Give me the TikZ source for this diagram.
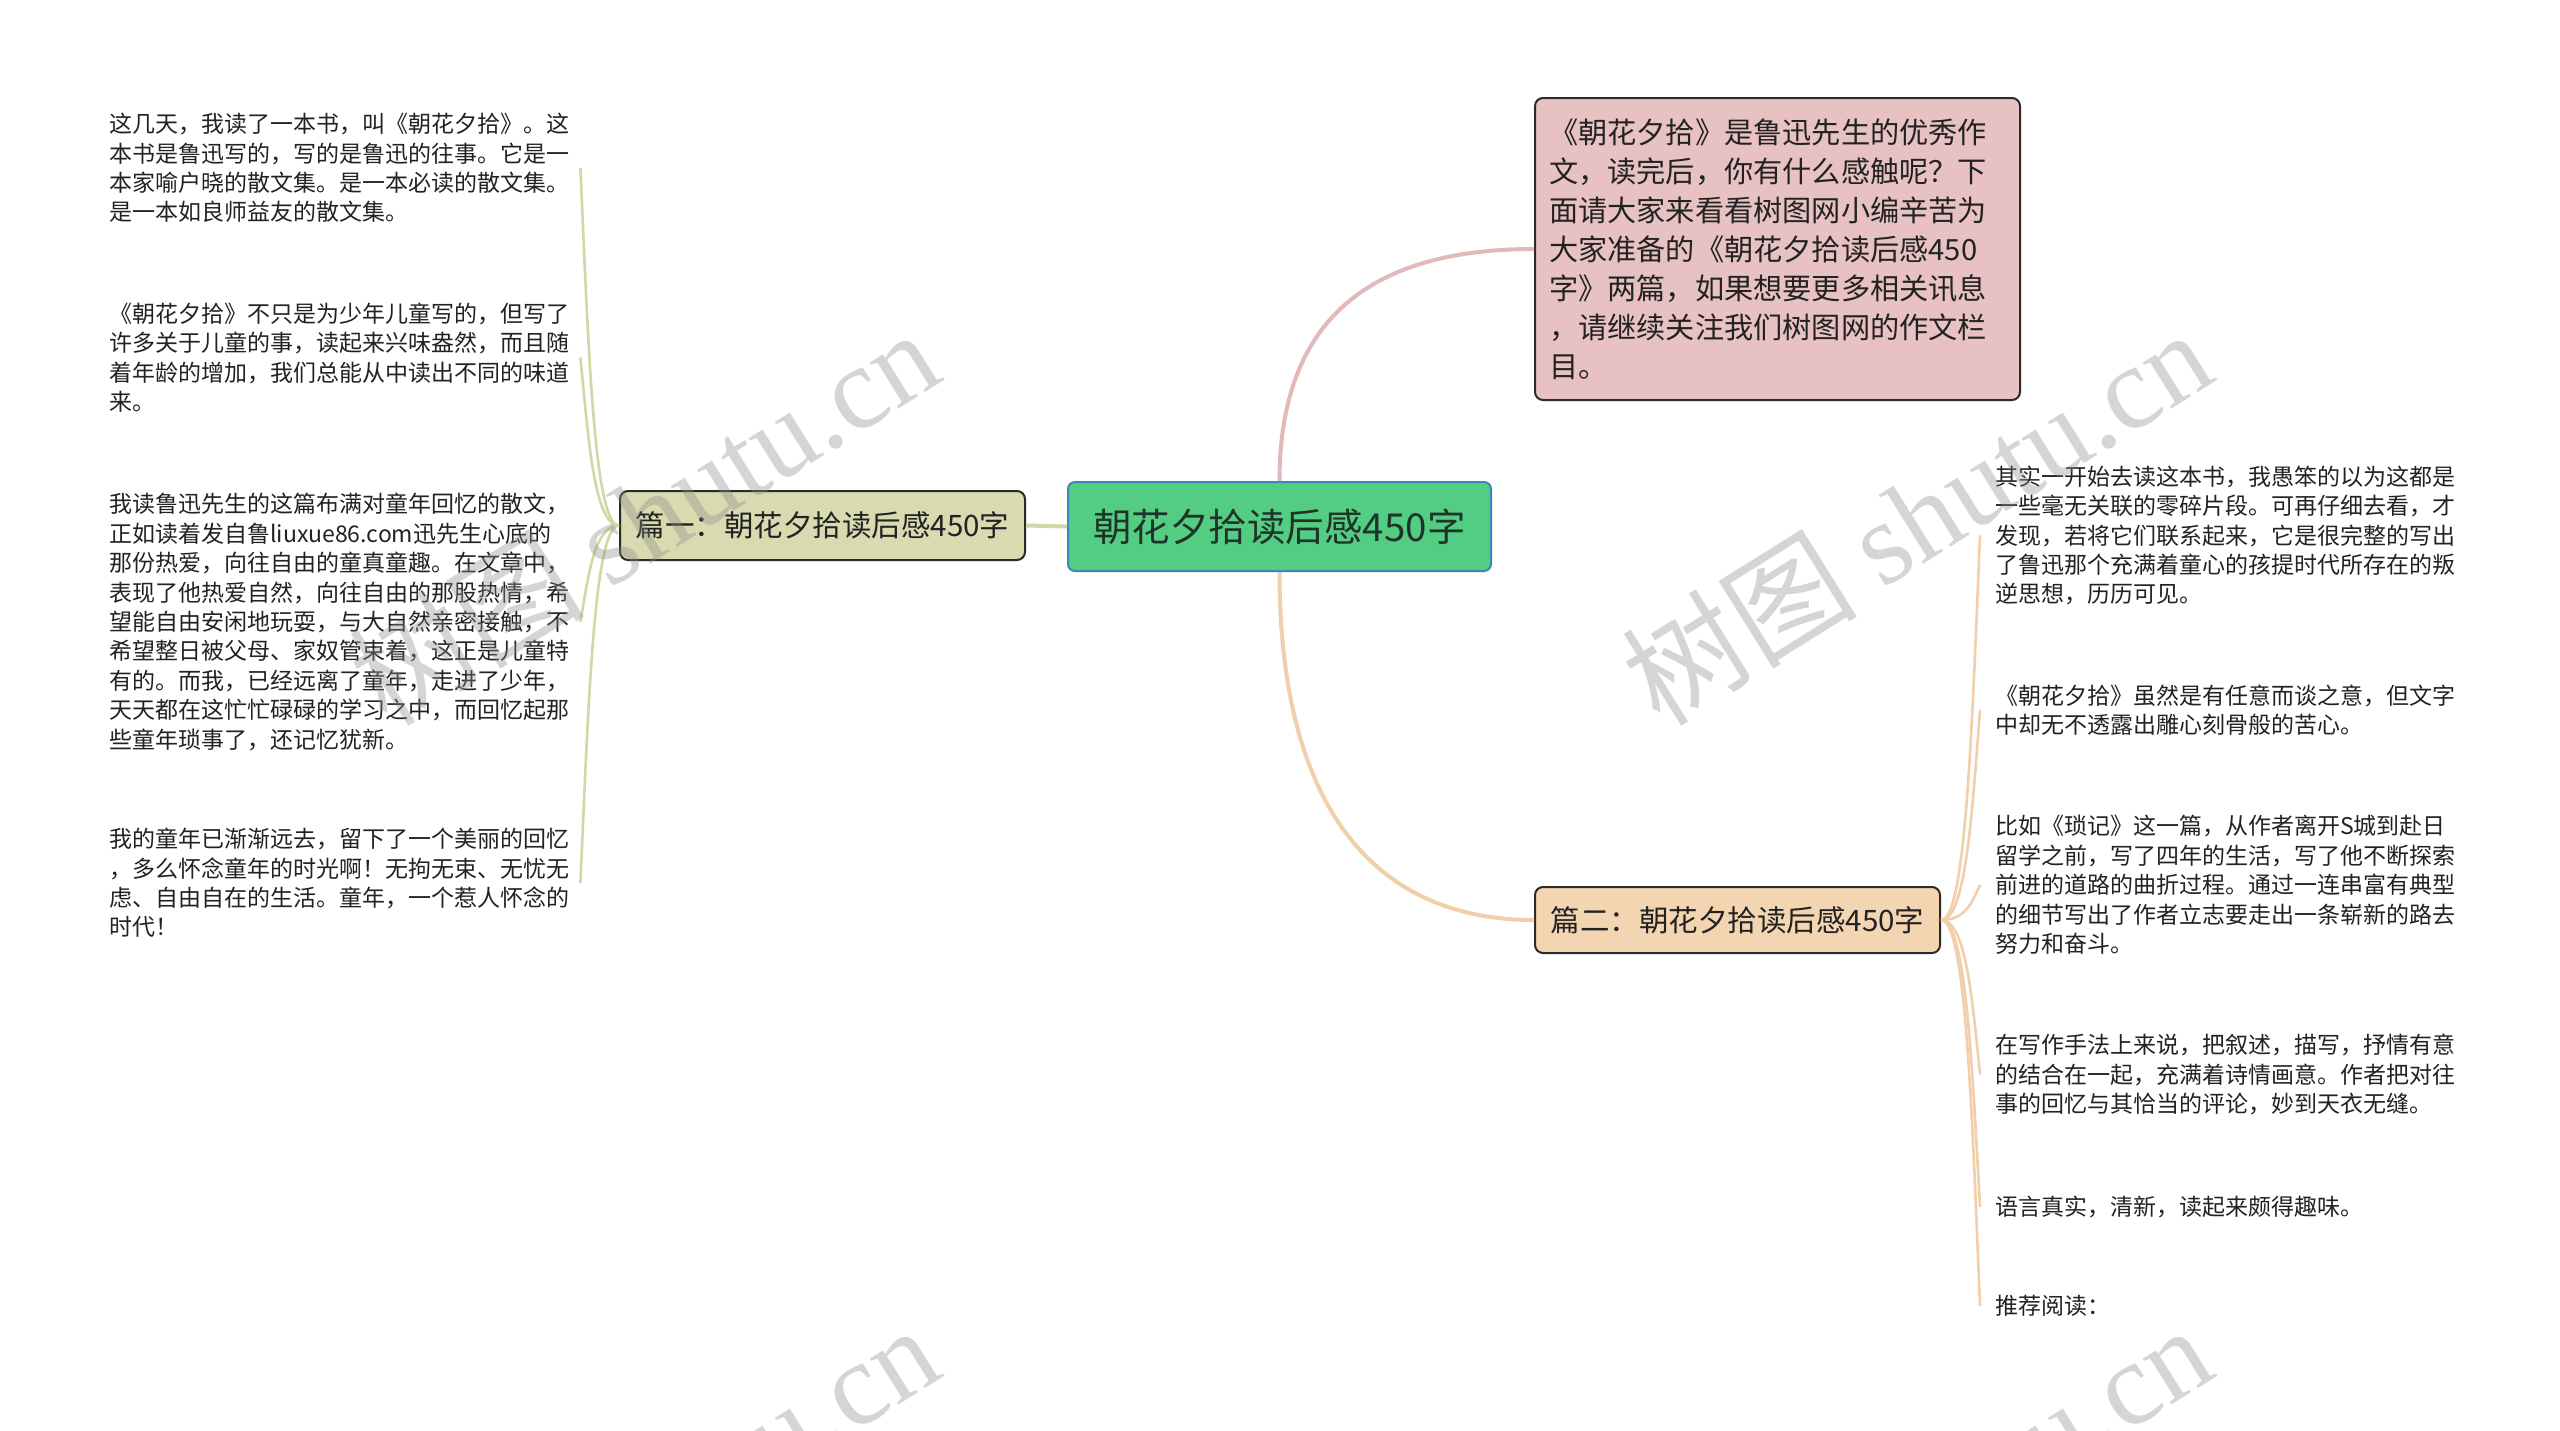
\documentclass[tikz,border=0pt]{standalone}
\usepackage{fontspec}
\setmainfont{Noto Sans CJK SC}
\newfontfamily\wmfont{Liberation Serif}
\definecolor{rootfill}{HTML}{54CD84}
\definecolor{rootdraw}{HTML}{3A86C0}
\definecolor{roottxt}{HTML}{1F3327}
\definecolor{khakifill}{HTML}{D8DAB0}
\definecolor{khakiline}{HTML}{D3D7A6}
\definecolor{pinkfill}{HTML}{E8C2C2}
\definecolor{pinkline}{HTML}{E2B8B8}
\definecolor{peachfill}{HTML}{F3D5B2}
\definecolor{peachline}{HTML}{F0CFAA}
\definecolor{boxdraw}{HTML}{2A2A2A}
\definecolor{txt}{HTML}{222222}
\definecolor{wmgray}{HTML}{8C8C8C}
\begin{document}
\begin{tikzpicture}[x=1pt,y=-1pt,
  leaf/.style={inner sep=0pt, text width=470pt, align=left,
    font=\fontsize{23}{29.4}\selectfont, text=txt},
  branchbox/.style={draw=boxdraw, line width=2pt, rounded corners=8pt,
    minimum width=405pt, inner sep=0pt, text=txt,
    font=\fontsize{29.5}{34}\selectfont},
  rootbox/.style={draw=rootdraw, line width=2pt, rounded corners=7pt,
    fill=rootfill, minimum width=423pt, minimum height=89pt, inner sep=0pt,
    text=roottxt, font=\fontsize{38.5}{42}\selectfont},
  infobox/.style={draw=boxdraw, line width=2pt, rounded corners=8pt,
    fill=pinkfill, minimum width=485pt, minimum height=302pt, inner sep=14pt,
    text width=457pt, align=left, text=txt,
    font=\fontsize{29.2}{39}\selectfont},
  subline/.style={line width=2.6pt},
  mainline/.style={line width=4pt},
  wm/.style={text=wmgray, opacity=0.36, rotate=32, inner sep=0pt,
    font=\fontsize{118}{118}\selectfont}
]
\useasboundingbox (0,0) rectangle (2560,1430);
\fill[white] (0,0) rectangle (2560,1430);

% main nodes
\node[rootbox] (root) at (1279.5,526.5) {朝花夕拾读后感450字};
\node[branchbox, fill=khakifill, minimum height=69pt] (b1) at (822.5,525.5) {篇一：朝花夕拾读后感450字};
\node[branchbox, fill=peachfill, minimum height=66pt] (b2) at (1737.5,920) {篇二：朝花夕拾读后感450字};
\node[infobox] (info) at (1777.5,249) {《朝花夕拾》是鲁迅先生的优秀作\\
文，读完后，你有什么感触呢？下\\
面请大家来看看树图网小编辛苦为\\
大家准备的《朝花夕拾读后感450\\
字》两篇，如果想要更多相关讯息\\
，请继续关注我们树图网的作文栏\\
目。};

% left leaves
\node[leaf, anchor=west] (l1) at (109,168) {这几天，我读了一本书，叫《朝花夕拾》。这\\
本书是鲁迅写的，写的是鲁迅的往事。它是一\\
本家喻户晓的散文集。是一本必读的散文集。\\
是一本如良师益友的散文集。};
\node[leaf, anchor=west] (l2) at (109,357.5) {《朝花夕拾》不只是为少年儿童写的，但写了\\
许多关于儿童的事，读起来兴味盎然，而且随\\
着年龄的增加，我们总能从中读出不同的味道\\
来。};
\node[leaf, anchor=west] (l3) at (109,622) {我读鲁迅先生的这篇布满对童年回忆的散文，\\
正如读着发自鲁liuxue86.com迅先生心底的\\
那份热爱，向往自由的童真童趣。在文章中，\\
表现了他热爱自然，向往自由的那股热情，希\\
望能自由安闲地玩耍，与大自然亲密接触，不\\
希望整日被父母、家奴管束着，这正是儿童特\\
有的。而我，已经远离了童年，走进了少年，\\
天天都在这忙忙碌碌的学习之中，而回忆起那\\
些童年琐事了，还记忆犹新。};
\node[leaf, anchor=west] (l4) at (109,883) {我的童年已渐渐远去，留下了一个美丽的回忆\\
，多么怀念童年的时光啊！无拘无束、无忧无\\
虑、自由自在的生活。童年，一个惹人怀念的\\
时代！};

% right leaves
\node[leaf, anchor=west] (r1) at (1995,535.5) {其实一开始去读这本书，我愚笨的以为这都是\\
一些毫无关联的零碎片段。可再仔细去看，才\\
发现，若将它们联系起来，它是很完整的写出\\
了鲁迅那个充满着童心的孩提时代所存在的叛\\
逆思想，历历可见。};
\node[leaf, anchor=west] (r2) at (1995,710) {《朝花夕拾》虽然是有任意而谈之意，但文字\\
中却无不透露出雕心刻骨般的苦心。};
\node[leaf, anchor=west] (r3) at (1995,885) {比如《琐记》这一篇，从作者离开S城到赴日\\
留学之前，写了四年的生活，写了他不断探索\\
前进的道路的曲折过程。通过一连串富有典型\\
的细节写出了作者立志要走出一条崭新的路去\\
努力和奋斗。};
\node[leaf, anchor=west] (r4) at (1995,1074.5) {在写作手法上来说，把叙述，描写，抒情有意\\
的结合在一起，充满着诗情画意。作者把对往\\
事的回忆与其恰当的评论，妙到天衣无缝。};
\node[leaf, anchor=west] (r5) at (1995,1207) {语言真实，清新，读起来颇得趣味。};
\node[leaf, anchor=west] (r6) at (1995,1306) {推荐阅读：};

% main connectors
\draw[mainline, khakiline] (root.west) -- (b1.east);
\draw[mainline, pinkline] (root.north) .. controls +(0,-165) and +(-160,0) .. (info.west);
\draw[mainline, peachline] (root.south) .. controls +(0,235) and +(-160,0) .. (b2.west);

% left leaf connectors
\draw[subline, khakiline] (b1.west) .. controls +(-25,0) and +(8,179) .. ([xshift=1pt]l1.east);
\draw[subline, khakiline] (b1.west) .. controls +(-25,0) and +(8,80) .. ([xshift=1pt]l2.east);
\draw[subline, khakiline] (b1.west) .. controls +(-25,0) and +(8,-46) .. ([xshift=1pt]l3.east);
\draw[subline, khakiline] (b1.west) .. controls +(-25,0) and +(8,-179) .. ([xshift=1pt]l4.east);

% right leaf connectors
\draw[subline, peachline] (b2.east) .. controls +(25,0) and +(-8,190) .. ([xshift=-15pt]r1.west);
\draw[subline, peachline] (b2.east) .. controls +(25,0) and +(-8,103) .. ([xshift=-15pt]r2.west);
\draw[subline, peachline] (b2.east) .. controls +(25,0) and +(-8,17) .. ([xshift=-15pt]r3.west);
\draw[subline, peachline] (b2.east) .. controls +(25,0) and +(-8,-77) .. ([xshift=-15pt]r4.west);
\draw[subline, peachline] (b2.east) .. controls +(25,0) and +(-8,-143) .. ([xshift=-15pt]r5.west);
\draw[subline, peachline] (b2.east) .. controls +(25,0) and +(-8,-193) .. ([xshift=-15pt]r6.west);

% watermarks
\node[wm] (wm1) at (1916,516) {树图 {\wmfont shutu.cn}};
\node[wm] (wm2) at (643,516) {树图 {\wmfont shutu.cn}};
\node[wm] (wm3) at (1916,1512) {树图 {\wmfont shutu.cn}};
\node[wm] (wm4) at (643,1512) {树图 {\wmfont shutu.cn}};
\end{tikzpicture}
\end{document}
